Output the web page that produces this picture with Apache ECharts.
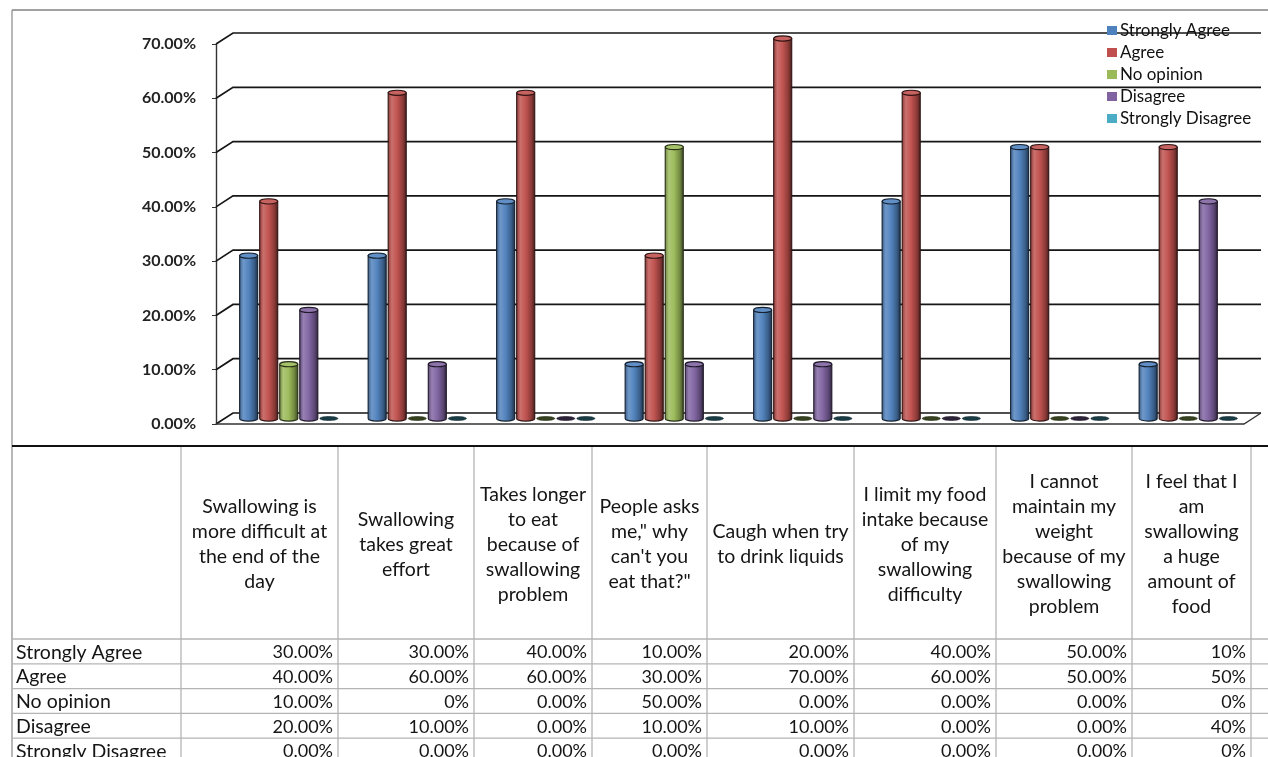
<!DOCTYPE html>
<html>
<head>
<meta charset="utf-8">
<script src="https://cdn.jsdelivr.net/npm/echarts@6/dist/echarts.min.js"></script>
<style>
  html, body { margin: 0; padding: 0; background: #ffffff; }
  #chart { width: 1268px; height: 757px; }
</style>
</head>
<body>
<div id="chart"></div>
<script>
// Survey statements (header cells of the data table, one per bar group)
const categories = [
  'Swallowing is\nmore difficult at\nthe end of the\nday',
  'Swallowing\ntakes great\neffort',
  'Takes longer\nto eat\nbecause of\nswallowing\nproblem',
  'People asks\nme," why\ncan\'t you\neat that?"',
  'Caugh when try\nto drink liquids',
  'I limit my food\nintake because\nof my\nswallowing\ndifficulty',
  'I cannot\nmaintain my\nweight\nbecause of my\nswallowing\nproblem',
  'I feel that I\nam\nswallowing\na huge\namount of\nfood'
];

const seriesNames = ['Strongly Agree', 'Agree', 'No opinion', 'Disagree', 'Strongly Disagree'];

// Share of answers per statement
const stronglyAgree    = [0.30, 0.30, 0.40, 0.10, 0.20, 0.40, 0.50, 0.10];
const agree            = [0.40, 0.60, 0.60, 0.30, 0.70, 0.60, 0.50, 0.50];
const noOpinion        = [0.10, 0.00, 0.00, 0.50, 0.00, 0.00, 0.00, 0.00];
const disagree         = [0.20, 0.10, 0.00, 0.10, 0.10, 0.00, 0.00, 0.40];
const stronglyDisagree = [0.00, 0.00, 0.00, 0.00, 0.00, 0.00, 0.00, 0.00];

const yTicks = [0, 0.1, 0.2, 0.3, 0.4, 0.5, 0.6, 0.7];

// Number format of the table cells: decimals per column, plus single-cell exceptions [row, col, decimals]
const columnDecimals = [2, 2, 2, 2, 2, 2, 2, 0];
const cellDecimalOverrides = [[2, 1, 0]];

const seriesValues = [stronglyAgree, agree, noOpinion, disagree, stronglyDisagree];
const palette = ['#4F81BD', '#C0504D', '#9BBB59', '#8064A2', '#4BACC6'];

// 3D depth of the plot box (back wall offset from the front plane)
const DX = 17, DY = -11;
const FONT = 'Lato, "Open Sans", sans-serif';

function shade(hex, amt) {
  const n = parseInt(hex.slice(1), 16);
  let r = (n >> 16) & 255, g = (n >> 8) & 255, b = n & 255;
  const f = c => amt >= 0 ? Math.round(c + (255 - c) * amt) : Math.round(c * (1 + amt));
  r = f(r); g = f(g); b = f(b);
  return 'rgb(' + r + ',' + g + ',' + b + ')';
}

function cylinderRenderer(s) {
  const base = palette[s];
  return function (params, api) {
    const i = api.value(0), v = api.value(1);
    const bw = api.size([1, 0])[0];
    const top = api.coord([i, v]);
    const bottom = api.coord([i, 0]);
    const step = bw * 0.156;
    const w = step * 0.9;
    const rx = w / 2;
    const ry = 2.6;
    const cx = top[0] + (s - 2) * step + DX / 2;
    const yt = top[1] + DY / 2;
    const yb = bottom[1] + DY / 2;
    if (v <= 0) {
      return {
        type: 'ellipse',
        shape: { cx: cx, cy: yb, rx: rx, ry: 2 },
        style: { fill: shade(base, -0.65), stroke: shade(base, -0.75), lineWidth: 0.6 }
      };
    }
    const grad = {
      type: 'linear', x: 0, y: 0, x2: 1, y2: 0,
      colorStops: [
        { offset: 0, color: shade(base, -0.3) },
        { offset: 0.22, color: shade(base, 0.18) },
        { offset: 0.5, color: shade(base, 0.02) },
        { offset: 0.8, color: shade(base, -0.28) },
        { offset: 1, color: shade(base, -0.65) }
      ]
    };
    const x0 = cx - rx, x1 = cx + rx;
    const body = 'M' + x0 + ' ' + yt + ' L' + x0 + ' ' + yb +
      ' A' + rx + ' ' + ry + ' 0 0 0 ' + x1 + ' ' + yb +
      ' L' + x1 + ' ' + yt + ' Z';
    return {
      type: 'group',
      children: [
        {
          type: 'path',
          shape: { pathData: body },
          style: { fill: grad, stroke: shade(base, -0.75), lineWidth: 1.1 }
        },
        {
          type: 'ellipse',
          shape: { cx: cx, cy: yt, rx: rx, ry: ry },
          style: { fill: shade(base, 0.1), stroke: shade(base, -0.75), lineWidth: 1.1 }
        }
      ]
    };
  };
}

// Back wall, left wall and floor of the plot box, one polyline per tick value
function wallRenderer(params, api) {
  const v = api.value(1);
  const bw = api.size([1, 0])[0];
  const pL = api.coord([0, v]);
  const pR = api.coord([categories.length - 1, v]);
  const lx = pL[0] - bw / 2, rx = pR[0] + bw / 2, y = pL[1];
  const lineStyle = { stroke: '#161616', lineWidth: 1.7, fill: null };
  const children = [{
    type: 'polyline',
    shape: { points: [[lx, y], [lx + DX, y + DY], [rx + DX, y + DY]] },
    style: lineStyle
  }];
  if (v === 0) {
    children.push({
      type: 'polyline',
      shape: { points: [[lx, y], [rx, y], [rx + DX, y + DY]] },
      style: { stroke: '#333', lineWidth: 1.3, fill: null }
    });
  }
  return { type: 'group', children: children };
}

// ---- data table below the chart ----
const colEdges = [12, 181, 338, 474, 592, 707, 854, 996, 1132, 1251];
const tableTop = 446, headerBottom = 639, rowH = 24.8;

function cellText(row, col) {
  let d = columnDecimals[col];
  cellDecimalOverrides.forEach(o => { if (o[0] === row && o[1] === col) d = o[2]; });
  return (seriesValues[row][col] * 100).toFixed(d) + '%';
}

const tableGraphics = [];
// frame of the sheet area
tableGraphics.push({ type: 'line', shape: { x1: 12, y1: 10, x2: 1268, y2: 10 }, style: { stroke: '#444', lineWidth: 1.2 } });
tableGraphics.push({ type: 'line', shape: { x1: 12, y1: 10, x2: 12, y2: 757 }, style: { stroke: '#888', lineWidth: 1.2 } });
// grid lines of the table
for (let r = 0; r < seriesNames.length; r++) {
  const y = headerBottom + r * rowH;
  tableGraphics.push({ type: 'line', shape: { x1: 12, y1: y, x2: 1268, y2: y }, style: { stroke: '#b4b4b4', lineWidth: 1.3 } });
}
for (let c = 1; c < colEdges.length; c++) {
  tableGraphics.push({ type: 'line', shape: { x1: colEdges[c], y1: tableTop, x2: colEdges[c], y2: 757 }, style: { stroke: '#b4b4b4', lineWidth: 1.3 } });
}
tableGraphics.push({ type: 'line', shape: { x1: 12, y1: tableTop, x2: 1268, y2: tableTop }, style: { stroke: '#111', lineWidth: 2 } });
// header cells
categories.forEach((name, c) => {
  tableGraphics.push({
    type: 'text',
    style: {
      text: name, x: (colEdges[c + 1] + colEdges[c + 2]) / 2, y: (tableTop + headerBottom) / 2 + 2,
      align: 'center', verticalAlign: 'middle', font: '19.5px ' + FONT, lineHeight: 25, fill: '#151515'
    }
  });
});
// row labels and values
seriesNames.forEach((name, r) => {
  const yc = headerBottom + r * rowH + rowH / 2 + 1;
  tableGraphics.push({
    type: 'text',
    style: { text: name, x: 16, y: yc, align: 'left', verticalAlign: 'middle', font: '19.5px ' + FONT, fill: '#151515' }
  });
  categories.forEach((_, c) => {
    tableGraphics.push({
      type: 'text',
      style: { text: cellText(r, c), x: colEdges[c + 2] - 5, y: yc, align: 'right', verticalAlign: 'middle', font: '18px ' + FONT, fill: '#151515' }
    });
  });
});

const chart = echarts.init(document.getElementById('chart'), null, { renderer: 'canvas' });

const series = [{
  type: 'custom',
  name: 'walls',
  silent: true,
  z: 1,
  data: yTicks.map(v => [0, v]),
  renderItem: wallRenderer
}];
seriesNames.forEach((name, s) => {
  series.push({
    type: 'custom',
    name: name,
    z: 3,
    itemStyle: { color: palette[s] },
    data: seriesValues[s].map((v, i) => [i, v]),
    renderItem: cylinderRenderer(s)
  });
});

chart.setOption({
  animation: false,
  backgroundColor: '#ffffff',
  grid: { left: 216, right: 24, top: 44, bottom: 333, containLabel: false },
  legend: {
    data: seriesNames,
    orient: 'vertical',
    left: 1102,
    top: 17,
    padding: [5, 5, 5, 5],
    icon: 'rect',
    itemWidth: 10,
    itemHeight: 9,
    itemGap: 5,
    textStyle: { fontFamily: FONT, fontSize: 17, color: '#111', lineHeight: 16, padding: [0, 0, 0, -2] }
  },
  xAxis: {
    type: 'category',
    data: categories,
    axisLine: { show: false },
    axisTick: { show: false },
    axisLabel: { show: false },
    splitLine: { show: false }
  },
  yAxis: {
    type: 'value',
    min: 0,
    max: 0.7,
    interval: 0.1,
    axisLine: { show: true, lineStyle: { color: '#333', width: 1.4 } },
    axisTick: { show: true, length: 4, lineStyle: { color: '#333' } },
    splitLine: { show: false },
    axisLabel: {
      margin: 20,
      fontFamily: FONT,
      fontSize: 16,
      fontWeight: 'bold',
      color: '#222',
      formatter: v => (v * 100).toFixed(2) + '%'
    }
  },
  graphic: tableGraphics,
  series: series
});
</script>
</body>
</html>
